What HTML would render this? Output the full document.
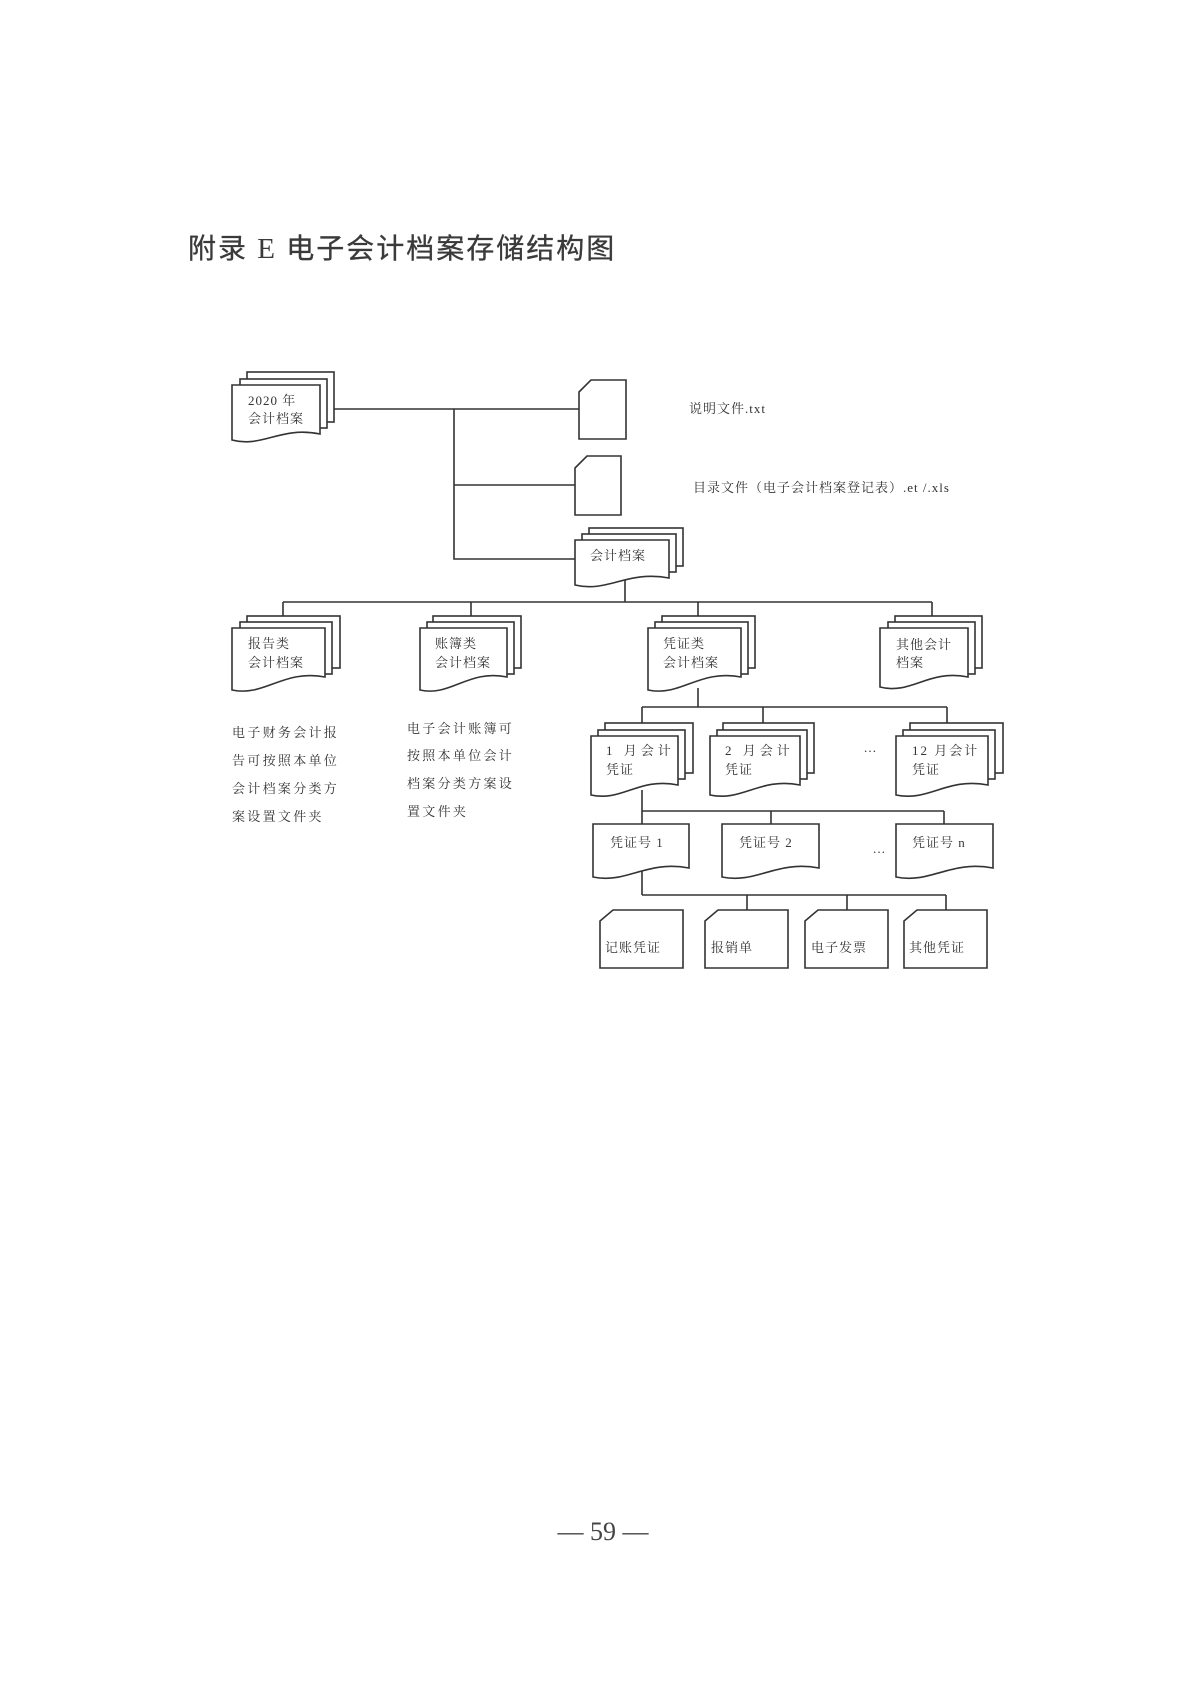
<!DOCTYPE html>
<html><head><meta charset="utf-8"><style>
html,body{margin:0;padding:0;background:#fff;}
body{width:1191px;height:1684px;position:relative;overflow:hidden;}
svg{position:absolute;left:0;top:0;}
text{font-family:"Liberation Serif","Noto Serif CJK SC",serif;font-size:13px;fill:#333;}
.t{letter-spacing:1px;}
.d{letter-spacing:2.3px;}
</style></head><body>
<svg width="1191" height="1684" viewBox="0 0 1191 1684">
<text x="188" y="258" style="font-family:'Noto Sans CJK SC',sans-serif;font-size:28px;fill:#3a3a3a;stroke:#3a3a3a;stroke-width:0.3;letter-spacing:2px">附录<tspan style="font-family:'Liberation Serif',serif;font-size:29px;stroke-width:0"> E </tspan> 电子会计档案存储结构图</text>
<text x="603" y="1540" text-anchor="middle" style="font-size:26px;fill:#444">— 59 —</text>

<g stroke="#333" stroke-width="1.6" fill="none">
<path d="M334 409H579M454 409V559H575M454 485H575"/>
<path d="M625 580V602M283 602H932M283 602V616M471 602V616M698 602V616M932 602V616"/>
<path d="M698 688V707M642 707H947M642 707V723M763 707V723M947 707V723"/>
<path d="M642 790V895M642 811H944M771 811V824M944 811V824"/>
<path d="M642 895H946M747 895V910M847 895V910M946 895V910"/>
</g>
<g stroke="#333" stroke-width="1.6" fill="#fff">
<rect x="247" y="372" width="87" height="50"/><rect x="240" y="379" width="87" height="49"/>
<path d="M232 385H320V434C280 426 263 448 232 440Z"/>
<path d="M591 380H626V439H579V392Z"/><path d="M587 456H621V515H575V468Z"/>
<rect x="589" y="528" width="94" height="38"/><rect x="582" y="534" width="94" height="38"/>
<path d="M575 540H669V578C627 570 608 593 575 585Z"/>
<rect x="247" y="616" width="93" height="52"/><rect x="240" y="622" width="92" height="52"/>
<path d="M232 628H325V677C283 669 265 697 232 690Z"/>
<rect x="433" y="616" width="88" height="52"/><rect x="427" y="622" width="87" height="52"/>
<path d="M420 628H507V677C468 669 451 697 420 690Z"/>
<rect x="662" y="616" width="93" height="52"/><rect x="655" y="622" width="93" height="52"/>
<path d="M648 628H741V677C699 669 681 697 648 690Z"/>
<rect x="895" y="616" width="87" height="52"/><rect x="888" y="622" width="87" height="52"/>
<path d="M880 628H968V677C928 669 912 695 880 687Z"/>
<rect x="605" y="723" width="88" height="50"/><rect x="598" y="730" width="87" height="49"/>
<path d="M591 736H678V785C639 777 622 802 591 795Z"/>
<rect x="723" y="723" width="91" height="50"/><rect x="717" y="730" width="90" height="49"/>
<path d="M710 736H800V785C760 777 742 802 710 795Z"/>
<rect x="910" y="723" width="93" height="50"/><rect x="903" y="730" width="92" height="49"/>
<path d="M896 736H988V785C947 777 929 802 896 795Z"/>
<path d="M593 824H689V868C646 860 627 884 593 877Z"/>
<path d="M722 824H819V868C776 860 757 884 722 877Z"/>
<path d="M896 824H993V868C950 860 931 884 896 877Z"/>
<path d="M613 910H683V968H600V921Z"/>
<path d="M718 910H788V968H705V921Z"/>
<path d="M818 910H888V968H805V921Z"/>
<path d="M917 910H987V968H904V921Z"/>
</g>

<text class="t" x="248" y="405">2020 年</text>
<text class="t" x="248" y="423">会计档案</text>
<text class="t" x="689" y="413">说明文件.txt</text>
<text class="t" x="693" y="492">目录文件（电子会计档案登记表）.et /.xls</text>
<text class="t" x="590" y="560">会计档案</text>
<text class="t" x="248" y="648">报告类</text><text class="t" x="248" y="667">会计档案</text>
<text class="t" x="435" y="648">账簿类</text><text class="t" x="435" y="667">会计档案</text>
<text class="t" x="663" y="648">凭证类</text><text class="t" x="663" y="667">会计档案</text>
<text class="t" x="896" y="649">其他会计</text><text class="t" x="896" y="667">档案</text>
<text class="d" x="232" y="737">电子财务会计报</text>
<text class="d" x="232" y="765">告可按照本单位</text>
<text class="d" x="232" y="793">会计档案分类方</text>
<text class="d" x="232" y="821">案设置文件夹</text>
<text class="d" x="407" y="733">电子会计账簿可</text>
<text class="d" x="407" y="760">按照本单位会计</text>
<text class="d" x="407" y="788">档案分类方案设</text>
<text class="d" x="407" y="816">置文件夹</text>
<text x="606" y="755" style="letter-spacing:4px">1 月会计</text><text class="t" x="606" y="774">凭证</text>
<text x="725" y="755" style="letter-spacing:4px">2 月会计</text><text class="t" x="725" y="774">凭证</text>
<text x="912" y="755" style="letter-spacing:2px">12 月会计</text><text class="t" x="912" y="774">凭证</text>
<text x="870" y="752" text-anchor="middle">…</text>
<text class="t" x="610" y="847">凭证号 1</text>
<text class="t" x="739" y="847">凭证号 2</text>
<text class="t" x="912" y="847">凭证号 n</text>
<text x="879" y="853" text-anchor="middle">…</text>
<text class="t" x="605" y="952">记账凭证</text>
<text class="t" x="711" y="952">报销单</text>
<text class="t" x="811" y="952">电子发票</text>
<text class="t" x="909" y="952">其他凭证</text>
</svg>
</body></html>
